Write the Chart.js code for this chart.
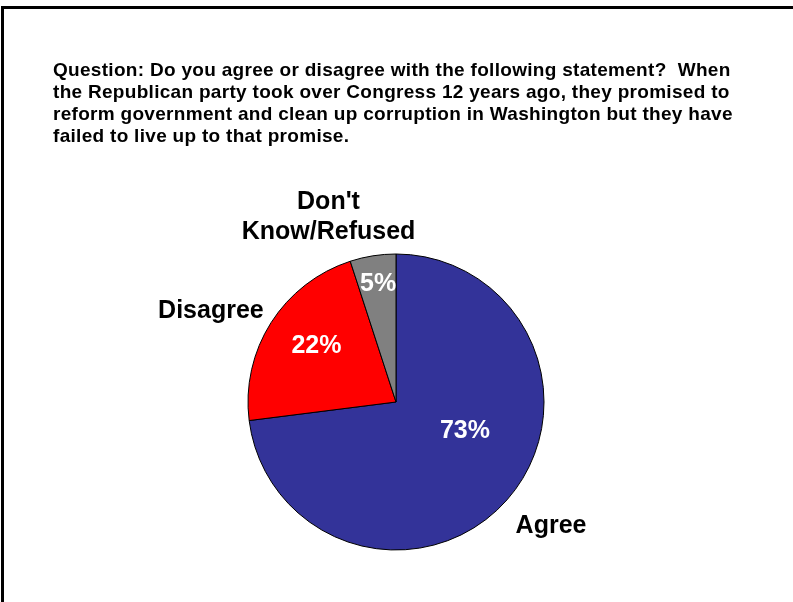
<!DOCTYPE html>
<html><head><meta charset="utf-8">
<script src="https://cdn.jsdelivr.net/npm/chart.js@4"></script>
<style>html,body{margin:0;padding:0;background:#fff;overflow:hidden}#wrap{width:793px;height:602px;position:relative}canvas{display:block}</style>
</head><body><div id="wrap"><canvas id="c" width="793" height="602"></canvas></div>
<script>
const categories = ["Agree", "Disagree", "Don't Know/Refused"];
const values = [73, 22, 5];
const valueLabels = ["73%", "22%", "5%"];
const categoryLabelLines = [["Agree"], ["Disagree"], ["Don't", "Know/Refused"]];
const titleLines = [
  "Question: Do you agree or disagree with the following statement?  When",
  "the Republican party took over Congress 12 years ago, they promised to",
  "reform government and clean up corruption in Washington but they have",
  "failed to live up to that promise."
];
const sliceColors = ["#333399", "#FF0000", "#808080"];

// label placement styles (fraction of radius, angle nudge in degrees)
const innerLabelPos = [{f:0.50, d:-20}, {f:0.667, d:3.9}, {f:0.82, d:0.5}];
const outerLabelPos = [{f:1.333, d:-3.2}, {f:1.40, d:-5.7}, {f:1.34, d:-10.9}];
const FONT = '"Liberation Sans", Arial, sans-serif';

const decor = {
  id: 'decor',
  beforeDraw(chart) {
    const ctx = chart.ctx;
    ctx.save();
    ctx.fillStyle = '#fff';
    ctx.fillRect(0, 0, chart.width, chart.height);
    ctx.fillStyle = '#000';
    ctx.fillRect(1, 6, chart.width - 1, 3);
    ctx.fillRect(1, 6, 3, chart.height - 6);
    ctx.font = 'bold 19px ' + FONT;
    if ('letterSpacing' in ctx) ctx.letterSpacing = '0.3px';
    ctx.textBaseline = 'alphabetic';
    ctx.textAlign = 'left';
    titleLines.forEach((t, i) => ctx.fillText(t, 53, 76 + i * 22));
    ctx.restore();
  },
  afterDatasetsDraw(chart) {
    const ctx = chart.ctx;
    const meta = chart.getDatasetMeta(0);
    ctx.save();
    ctx.textAlign = 'center';
    ctx.textBaseline = 'alphabetic';
    const size = 25;
    const cap = size * 0.716;
    meta.data.forEach((arc, i) => {
      const p = arc.getProps(['x', 'y', 'startAngle', 'endAngle', 'outerRadius'], true);
      const mid = (p.startAngle + p.endAngle) / 2;
      ctx.font = 'bold ' + size + 'px ' + FONT;
      let a = mid + innerLabelPos[i].d * Math.PI / 180;
      let r = p.outerRadius * innerLabelPos[i].f;
      ctx.fillStyle = '#fff';
      ctx.fillText(valueLabels[i], p.x + Math.cos(a) * r, p.y + Math.sin(a) * r + cap / 2);
      a = mid + outerLabelPos[i].d * Math.PI / 180;
      r = p.outerRadius * outerLabelPos[i].f;
      const cx = p.x + Math.cos(a) * r, cy = p.y + Math.sin(a) * r;
      const lines = categoryLabelLines[i];
      const lh = 30;
      ctx.fillStyle = '#000';
      lines.forEach((ln, j) => {
        const y = cy + (j - (lines.length - 1) / 2) * lh + cap / 2;
        ctx.fillText(ln, cx, y);
      });
    });
    ctx.restore();
  }
};

new Chart(document.getElementById('c'), {
  type: 'pie',
  data: {
    labels: categories,
    datasets: [{
      data: values,
      backgroundColor: sliceColors,
      borderColor: '#000',
      borderWidth: 1,
      hoverOffset: 0
    }]
  },
  options: {
    responsive: false,
    animation: false,
    devicePixelRatio: 1,
    radius: 148,
    layout: { padding: { left: 200, right: 201, top: 250, bottom: 48 } },
    plugins: { legend: { display: false }, tooltip: { enabled: false }, title: { display: false } },
    events: []
  },
  plugins: [decor]
});
</script>
</body></html>
